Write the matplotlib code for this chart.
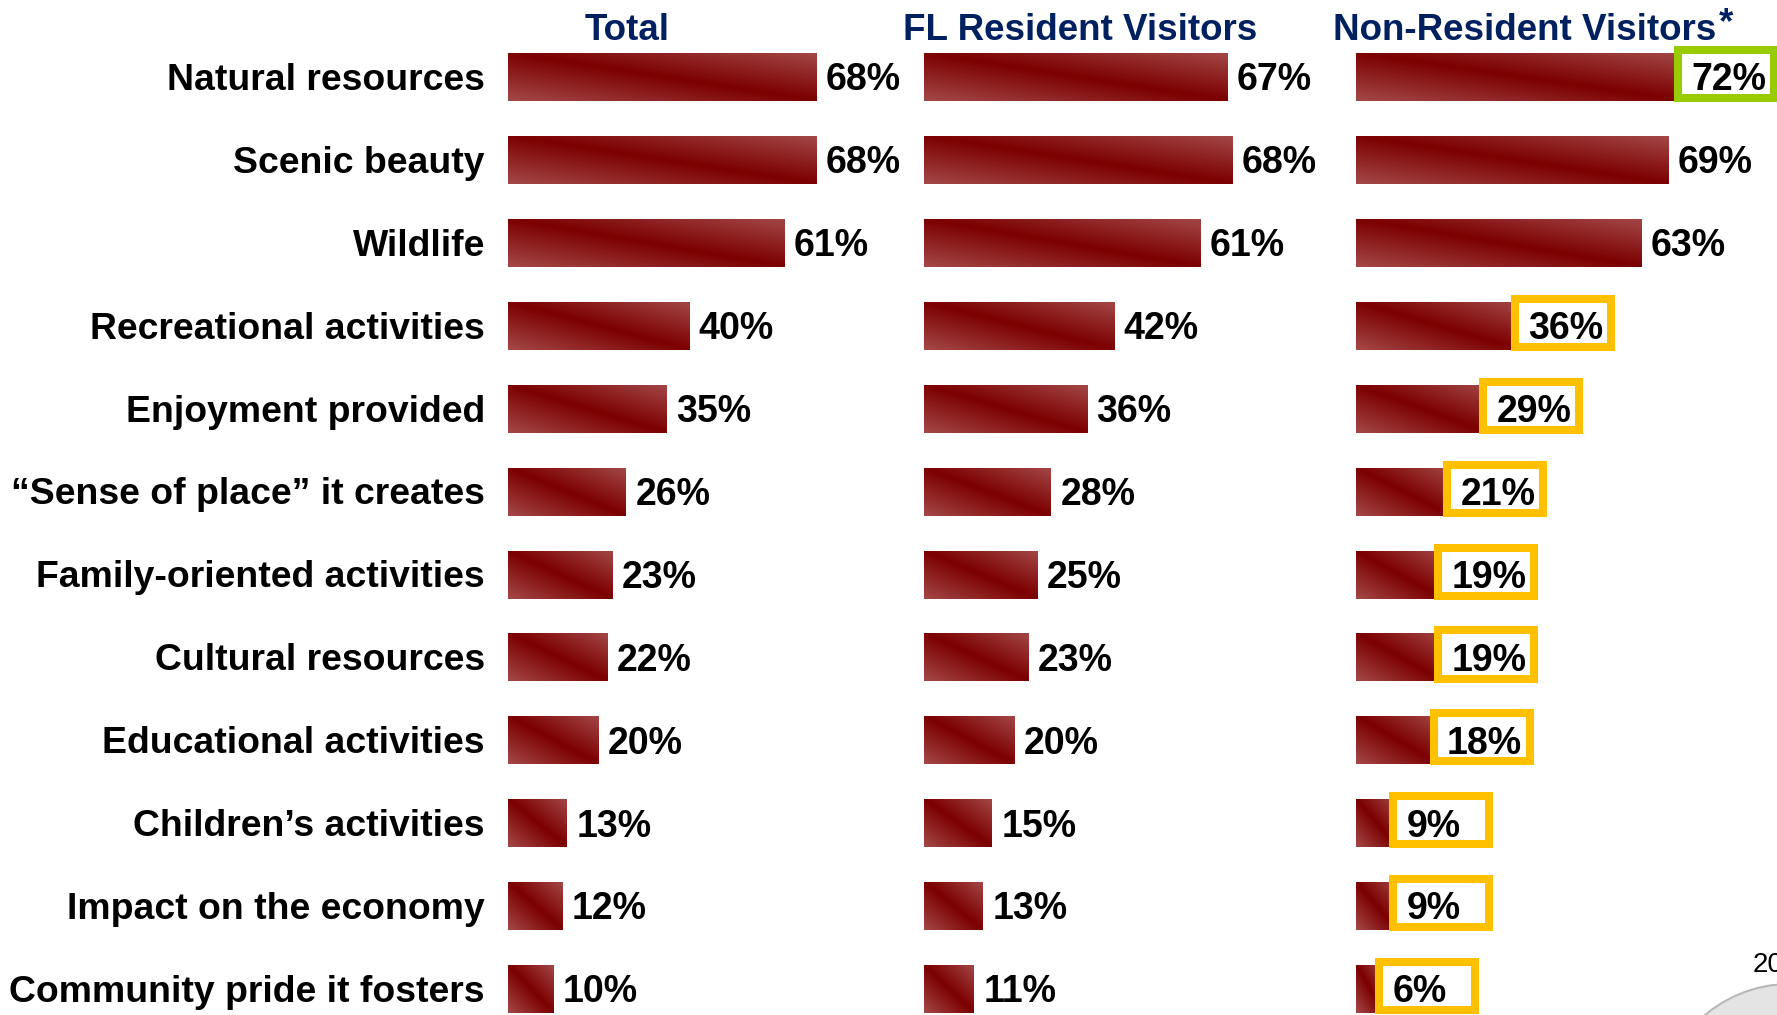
import numpy as np
import matplotlib.pyplot as plt
from matplotlib.patches import Rectangle, Circle

# --- Data ---
categories = [
    'Natural resources', 'Scenic beauty', 'Wildlife', 'Recreational activities',
    'Enjoyment provided', '\u201cSense of place\u201d it creates',
    'Family-oriented activities', 'Cultural resources', 'Educational activities',
    'Children\u2019s activities', 'Impact on the economy', 'Community pride it fosters',
]
total = [68, 68, 61, 40, 35, 26, 23, 22, 20, 13, 12, 10]
fl_resident = [67, 68, 61, 42, 36, 28, 25, 23, 20, 15, 13, 11]
non_resident = [72, 69, 63, 36, 29, 21, 19, 19, 18, 9, 9, 6]
# significance vs. total: 'high' = green box, 'low' = orange box
nr_flags = ['high', None, None, 'low', 'low', 'low', 'low', 'low', 'low', 'low', 'low', 'low']
headers = ['Total', 'FL Resident Visitors', 'Non-Resident Visitors']

plt.rcParams['font.family'] = ['Liberation Sans', 'DejaVu Sans']

W, H = 1777, 1015
fig = plt.figure(figsize=(W / 100, H / 100), dpi=100)

# gradient used to fill each bar: dark along the TL-BR diagonal, lighter at the other corners
dark = np.array([0x7c, 0x00, 0x00]) / 255
light = np.array([0xa4, 0x48, 0x48]) / 255
gu, gv = np.meshgrid(np.linspace(0, 1, 200), np.linspace(0, 1, 60))
grad = dark + (light - dark) * np.abs(gu - gv)[..., None]

px_per_pct = 4.53
xmax = 80
ax_lefts = [508, 924, 1356]
row_px = 82.9
ax_bottom = -15.5
ax_height = 12 * row_px
text_dy = 0.04  # nudge text down a little so it sits centred on the bars

y = np.arange(len(categories))
box_colors = {'high': '#99cc00', 'low': '#ffc000'}

axes = []
for left, vals in zip(ax_lefts, [total, fl_resident, non_resident]):
    ax = fig.add_axes([left / W, ax_bottom / H, xmax * px_per_pct / W, ax_height / H])
    bars = ax.barh(y, vals, height=0.58, color='none')
    for bar in bars:
        x0, y0, w, h = bar.get_x(), bar.get_y(), bar.get_width(), bar.get_height()
        im = ax.imshow(grad, extent=(x0, x0 + w, y0 + h, y0), aspect='auto',
                       interpolation='bilinear', zorder=2)
        im.set_clip_path(bar)
    for i, v in enumerate(vals):
        ax.text(v + 2.1, i + text_dy, f'{v}%', ha='left', va='center', fontsize=27,
                fontweight='bold', color='black', zorder=5, clip_on=False)
    ax.set_xlim(0, xmax)
    ax.set_ylim(len(categories) - 0.5, -0.5)
    ax.axis('off')
    axes.append(ax)

# category labels
for i, cat in enumerate(categories):
    axes[0].text(-5.1, i + text_dy, cat, ha='right', va='center', fontsize=26.9,
                 fontweight='bold', color='black', clip_on=False)

# highlight boxes on the non-resident column
for i, (v, flag) in enumerate(zip(non_resident, nr_flags)):
    if flag is None:
        continue
    axes[2].add_patch(Rectangle((v - 0.88, i - 0.036 - 0.29), 21.2, 0.58,
                                facecolor='white', edgecolor=box_colors[flag],
                                linewidth=5.8, zorder=4, clip_on=False))

# column headers
navy = '#002060'
header_x = [627, 1080, 1525]
for hx, txt in zip(header_x, headers):
    fig.text(hx / W, 1 - 40 / H, txt, ha='center', va='baseline', fontsize=26.5,
             fontweight='bold', color=navy)
fig.text(1719 / W, 1 - 33 / H, '*', ha='left', va='baseline', fontsize=26.5,
         fontweight='bold', color=navy)

# slide page number (cut by the slide edge, as in the original) and logo corner
fig.text(1753 / W, 1 - 972 / H, '20', ha='left', va='baseline', fontsize=20, color='black')
fig.add_artist(Circle((17.90, -1.01), 1.32, transform=fig.dpi_scale_trans,
                      facecolor='#e4e4e4', edgecolor='#b8b8b8', linewidth=1.5))

plt.savefig('out.png', dpi=100)
